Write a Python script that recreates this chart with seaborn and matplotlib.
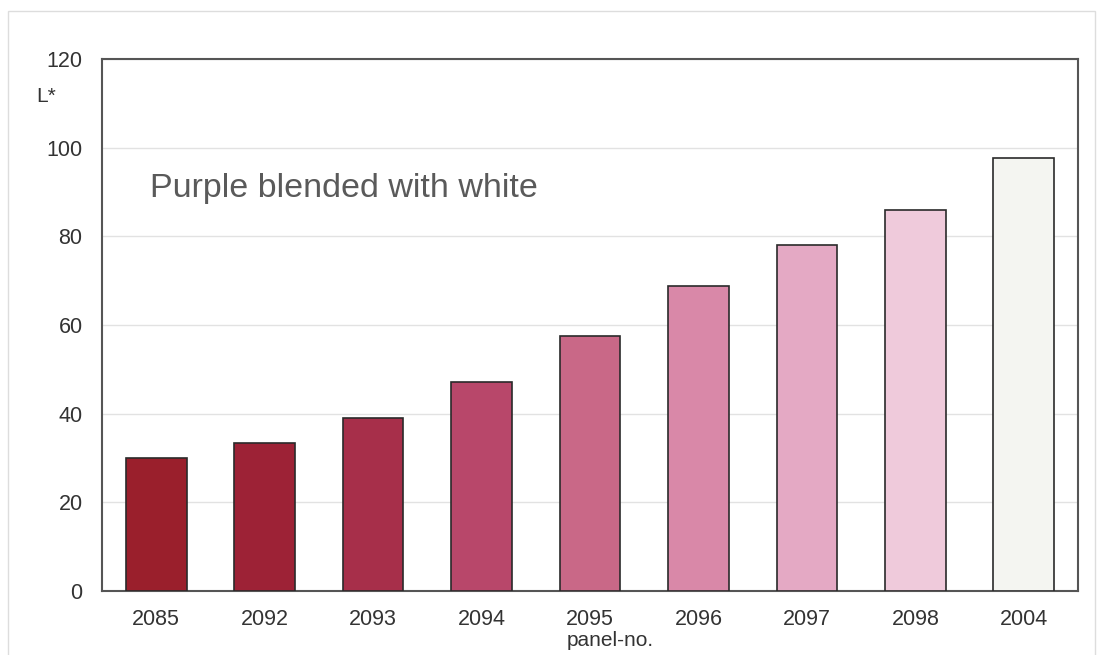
import pandas as pd
import matplotlib.pyplot as plt
import seaborn as sns
from matplotlib.patches import Rectangle

panels = ["2085", "2092", "2093", "2094", "2095", "2096", "2097", "2098", "2004"]
lightness = [30.0, 33.4, 39.0, 47.1, 57.5, 68.8, 78.0, 85.9, 97.7]
bar_colors = ["#9a1f2c", "#9d2236", "#a72f4a", "#b8476a", "#c96887",
              "#d988a8", "#e4a9c4", "#efcadb", "#f4f5f1"]

df = pd.DataFrame({"panel": panels, "L": lightness})

sns.set_style("white")
plt.rcParams['font.family'] = ['Liberation Sans', 'DejaVu Sans']

fig = plt.figure(figsize=(10.97, 6.55), dpi=100)
ax = fig.add_axes([102 / 1097, 1 - 591 / 655, 976 / 1097, 532 / 655])

sns.barplot(data=df, x="panel", y="L", hue="panel", palette=bar_colors,
            legend=False, width=0.56, edgecolor="#2a2a2a", linewidth=1.2,
            saturation=1, ax=ax, zorder=3)

ax.set_xlim(-0.5, 8.5)
ax.set_ylim(0, 120)
ax.set_yticks(range(0, 121, 20))
ax.yaxis.grid(True, color="#e2e2e2", linewidth=1, zorder=0)
ax.set_axisbelow(True)
for s in ax.spines.values():
    s.set_color("#555555")
    s.set_linewidth(1.5)
    s.set_visible(True)
ax.tick_params(axis="both", length=0, labelsize=15.5, labelcolor="#333333")
ax.tick_params(axis="x", pad=13)
ax.tick_params(axis="y", pad=14)
ax.set_xlabel("")
ax.set_ylabel("")

fig.text(610 / 1097, 1 - 641 / 655, "panel-no.", ha="center", va="center",
         fontsize=15, color="#333333")
fig.text(36 / 1097, 1 - 96 / 655, "L*", ha="left", va="center",
         fontsize=15, color="#333333")
ax.text(0.049, 0.757, "Purple blended with white", transform=ax.transAxes,
        ha="left", va="center", fontsize=24.5, color="#5a5a5a")

fig.patches.append(Rectangle((8 / 1097, -0.1), 1087 / 1097, 1.1 - 11 / 655,
                             transform=fig.transFigure, fill=False,
                             edgecolor="#dddddd", linewidth=1))

fig.savefig("out.png", dpi=100)
